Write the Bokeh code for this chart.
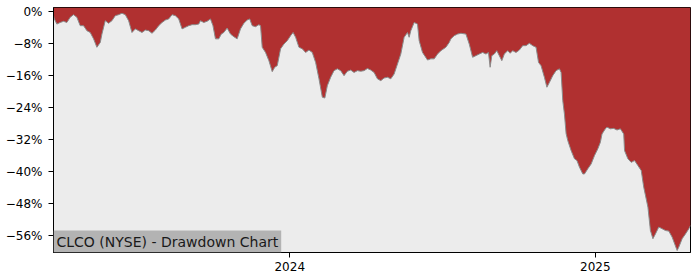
import pandas as pd
from bokeh.plotting import figure
from bokeh.models import Range1d, FixedTicker, DatetimeTickFormatter, Label, ColumnDataSource
from bokeh.embed import file_html
from bokeh.resources import INLINE

# ---- data ----
dates = [
    "2023-03-24", "2023-03-25", "2023-03-28", "2023-04-01", "2023-04-05", "2023-04-09", "2023-04-13",
    "2023-04-17", "2023-04-21", "2023-04-25", "2023-04-29", "2023-05-03", "2023-05-07", "2023-05-11",
    "2023-05-15", "2023-05-19", "2023-05-21", "2023-05-25", "2023-05-29", "2023-06-02", "2023-06-06",
    "2023-06-10", "2023-06-14", "2023-06-18", "2023-06-22", "2023-06-26", "2023-06-30", "2023-07-04",
    "2023-07-08", "2023-07-12", "2023-07-16", "2023-07-20", "2023-07-24", "2023-07-28", "2023-08-01",
    "2023-08-05", "2023-08-09", "2023-08-13", "2023-08-17", "2023-08-21", "2023-08-25", "2023-08-29",
    "2023-09-02", "2023-09-06", "2023-09-10", "2023-09-14", "2023-09-16", "2023-09-20", "2023-09-24",
    "2023-09-28", "2023-10-01", "2023-10-04", "2023-10-08", "2023-10-11", "2023-10-14", "2023-10-18",
    "2023-10-22", "2023-10-26", "2023-10-30", "2023-11-03", "2023-11-07", "2023-11-11", "2023-11-14",
    "2023-11-17", "2023-11-21", "2023-11-25", "2023-11-27", "2023-11-29", "2023-12-03", "2023-12-07",
    "2023-12-11", "2023-12-14", "2023-12-17", "2023-12-21", "2023-12-25", "2023-12-29", "2024-01-02",
    "2024-01-05", "2024-01-08", "2024-01-12", "2024-01-16", "2024-01-20", "2024-01-24", "2024-01-28",
    "2024-02-01", "2024-02-05", "2024-02-09", "2024-02-12", "2024-02-15", "2024-02-19", "2024-02-23",
    "2024-02-27", "2024-03-02", "2024-03-06", "2024-03-10", "2024-03-14", "2024-03-18", "2024-03-22",
    "2024-03-26", "2024-03-30", "2024-04-03", "2024-04-07", "2024-04-11", "2024-04-15", "2024-04-19",
    "2024-04-23", "2024-04-27", "2024-05-01", "2024-05-05", "2024-05-09", "2024-05-13", "2024-05-17",
    "2024-05-21", "2024-05-23", "2024-05-25", "2024-05-29", "2024-06-02", "2024-06-04", "2024-06-08",
    "2024-06-14", "2024-06-18", "2024-06-22", "2024-06-26", "2024-06-30", "2024-07-06", "2024-07-10",
    "2024-07-12", "2024-07-16", "2024-07-20", "2024-07-24", "2024-07-30", "2024-08-03", "2024-08-07",
    "2024-08-11", "2024-08-15", "2024-08-19", "2024-08-23", "2024-08-26", "2024-08-28", "2024-08-30",
    "2024-09-02", "2024-09-05", "2024-09-08", "2024-09-11", "2024-09-14", "2024-09-18", "2024-09-21",
    "2024-09-24", "2024-09-28", "2024-10-02", "2024-10-06", "2024-10-10", "2024-10-14", "2024-10-18",
    "2024-10-22", "2024-10-25", "2024-10-28", "2024-11-01", "2024-11-04", "2024-11-07", "2024-11-11",
    "2024-11-15", "2024-11-19", "2024-11-21", "2024-11-23", "2024-11-25", "2024-11-27", "2024-11-29",
    "2024-12-03", "2024-12-07", "2024-12-10", "2024-12-13", "2024-12-17", "2024-12-19", "2024-12-23",
    "2024-12-27", "2024-12-31", "2025-01-04", "2025-01-07", "2025-01-09", "2025-01-13", "2025-01-15",
    "2025-01-19", "2025-01-23", "2025-01-27", "2025-01-31", "2025-02-04", "2025-02-05", "2025-02-09",
    "2025-02-13", "2025-02-17", "2025-02-21", "2025-02-25", "2025-02-28", "2025-03-05", "2025-03-08",
    "2025-03-11", "2025-03-14", "2025-03-18", "2025-03-22", "2025-03-26", "2025-03-30", "2025-04-03",
    "2025-04-09", "2025-04-11", "2025-04-15", "2025-04-19", "2025-04-23", "2025-04-25",
]
drawdown = [
    -1.0, -1.8, -3.1, -2.7, -2.4, -2.7, -1.4,
    -0.75, -1.4, -3.5, -3.5, -4.75, -5.2, -6.8,
    -8.9, -7.7, -5.6, -2.25, -2.9, -2.25, -1.0,
    -0.75, -0.4, -0.75, -2.25, -5.2, -4.3, -4.75,
    -5.2, -4.6, -4.75, -5.4, -4.6, -3.5, -2.7,
    -2.1, -1.8, -0.75, -1.0, -1.8, -4.3, -3.9,
    -3.5, -3.25, -3.25, -3.1, -2.25, -2.7, -2.4,
    -1.8, -3.5, -6.8, -6.8, -5.6, -5.2, -4.1,
    -5.6, -6.25, -6.8, -4.3, -2.9, -2.1, -1.8,
    -3.5, -3.75, -3.25, -3.5, -8.9, -10.2, -12.25,
    -15.0, -13.9, -13.5, -9.3, -8.1, -7.25, -6.0,
    -5.2, -6.4, -8.9, -9.3, -10.2, -9.6, -10.2,
    -12.7, -16.8, -21.4, -21.6, -18.5, -16.4, -14.75,
    -14.3, -14.75, -16.0, -14.9, -14.6, -15.2, -14.75,
    -14.9, -14.75, -14.2, -14.6, -15.2, -16.8, -17.25,
    -16.6, -16.4, -16.8, -15.6, -13.1, -10.6, -6.4,
    -5.2, -6.4, -4.75, -2.7, -3.1, -7.25, -10.2,
    -12.1, -11.8, -11.8, -10.6, -9.75, -8.9, -7.7,
    -6.8, -6.0, -5.6, -5.4, -5.6, -8.1, -11.4,
    -11.0, -10.6, -10.2, -10.6, -10.2, -13.9, -11.0,
    -10.6, -9.75, -11.0, -12.25, -10.6, -9.75, -10.4,
    -9.75, -10.2, -9.6, -8.5, -8.5, -7.9, -8.5,
    -8.9, -12.7, -13.5, -16.4, -18.9, -17.7, -16.0,
    -14.75, -14.3, -15.2, -22.25, -25.6, -30.5, -32.25,
    -34.75, -36.8, -37.25, -38.9, -40.6, -40.6, -39.3,
    -38.1, -36.0, -34.3, -32.7, -30.6, -29.3, -28.9,
    -29.3, -29.2, -29.6, -29.3, -30.6, -34.75, -36.8,
    -37.7, -37.25, -38.5, -39.75, -43.9, -48.9, -54.75,
    -56.8, -55.6, -53.9, -54.3, -54.75, -54.9, -56.4,
    -59.75, -58.9, -56.8, -55.6, -54.3, -53.5,
]
y_ticks = [0, -8, -16, -24, -32, -40, -48, -56]
y_tick_labels = ["0%", "\u22128%", "\u221216%", "\u221224%", "\u221232%", "\u221240%", "\u221248%", "\u221256%"]
x_ticks = ["2024-01-01", "2025-01-01"]
x_tick_labels = ["2024", "2025"]
title_text = "CLCO (NYSE) - Drawdown Chart"

# ---- figure ----
Y_TOP, Y_BOTTOM = 1.05, -60.25
dts = pd.to_datetime(dates)
src = ColumnDataSource(dict(date=dts, dd=drawdown))

p = figure(width=700, height=280, x_axis_type="datetime", output_backend="svg",
           toolbar_location=None, min_border_left=53, min_border_right=10,
           min_border_top=7, min_border_bottom=28)
p.x_range = Range1d(dts[0], dts[-1])
p.y_range = Range1d(Y_BOTTOM, Y_TOP)
p.background_fill_color = "#ececec"
p.border_fill_color = "white"
p.outline_line_color = "black"
p.outline_line_width = 1
p.outline_line_alpha = 1
p.grid.visible = False

p.varea(x="date", y1=Y_TOP, y2="dd", source=src, fill_color="#b03030")
p.line(x="date", y="dd", source=src, line_color="#8a8a8a", line_width=1)

x_ms = [pd.Timestamp(t).timestamp() * 1000 for t in x_ticks]
p.xaxis.ticker = FixedTicker(ticks=x_ms)
p.xaxis.formatter = DatetimeTickFormatter(years="%Y", months="%Y", days="%Y", hours="%Y")
p.xaxis.major_label_overrides = {v: l for v, l in zip(x_ms, x_tick_labels)}
p.yaxis.ticker = FixedTicker(ticks=y_ticks)
p.yaxis.major_label_overrides = {v: l for v, l in zip(y_ticks, y_tick_labels)}

for ax in (p.xaxis, p.yaxis):
    ax.axis_line_color = "black"
    ax.major_tick_line_color = "black"
    ax.major_tick_in = 0
    ax.major_tick_out = 5
    ax.minor_tick_line_color = None
    ax.major_label_text_font = "DejaVu Sans"
    ax.major_label_text_font_size = "12px"
    ax.major_label_text_color = "black"
p.yaxis.major_label_standoff = 6
p.xaxis.major_label_standoff = 4

lab = Label(x=dts[0], y=Y_BOTTOM, text=title_text, anchor="bottom_left",
            text_font="DejaVu Sans", text_font_size="14px", text_color="#1a1a1a",
            background_fill_color="#b3b3b3", background_fill_alpha=1,
            padding=3)
p.add_layout(lab)

open("out.html", "w").write(file_html(p, INLINE))
